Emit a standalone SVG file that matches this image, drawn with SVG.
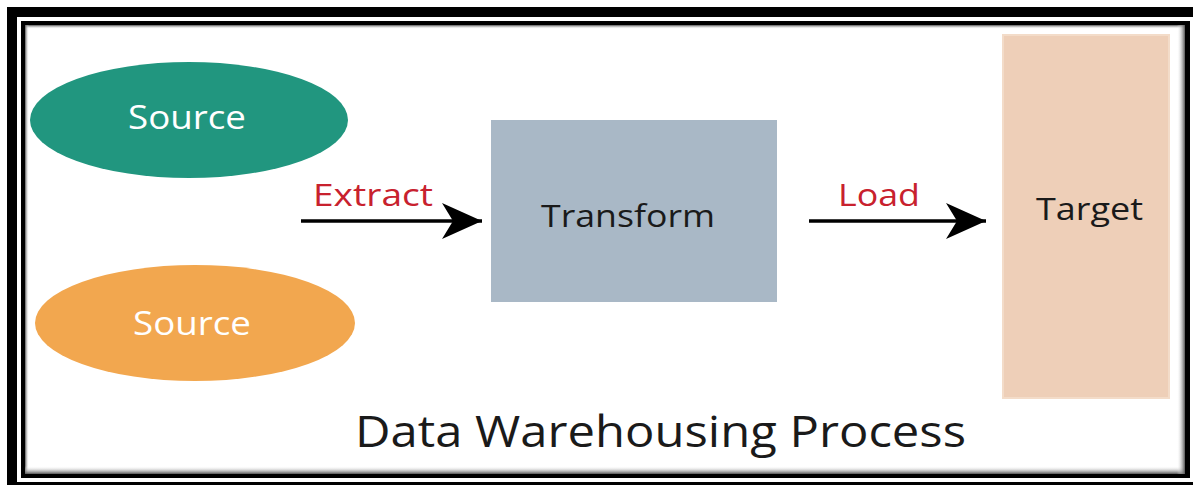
<svg xmlns="http://www.w3.org/2000/svg" width="1193" height="485" viewBox="0 0 1193 485">
  <style>
    .lbl { font-family: "Open Sans", "Noto Sans", "DejaVu Sans", sans-serif; }
    .white { fill: #ffffff; font-size: 32px; }
    .dark { fill: #1a1a1a; font-size: 31px; }
    .red { fill: #c8212e; font-size: 31px; }
    .conn { stroke: #000; stroke-width: 3.5; fill: none; }
  </style>
  <defs>
    <marker id="arrow" viewBox="0 0 40 36" refX="40" refY="18" markerWidth="40" markerHeight="36" markerUnits="userSpaceOnUse" orient="auto">
      <path d="M0,0 L40,18 L0,36 L11,18 Z" fill="#000"/>
    </marker>
    <linearGradient id="shT" x1="0" y1="0" x2="0" y2="1"><stop offset="0" stop-color="#555"/><stop offset="1" stop-color="#fff" stop-opacity="0"/></linearGradient>
    <linearGradient id="shB" x1="0" y1="1" x2="0" y2="0"><stop offset="0" stop-color="#555"/><stop offset="1" stop-color="#fff" stop-opacity="0"/></linearGradient>
    <linearGradient id="shL" x1="0" y1="0" x2="1" y2="0"><stop offset="0" stop-color="#555"/><stop offset="1" stop-color="#fff" stop-opacity="0"/></linearGradient>
    <linearGradient id="shR" x1="1" y1="0" x2="0" y2="0"><stop offset="0" stop-color="#555"/><stop offset="1" stop-color="#fff" stop-opacity="0"/></linearGradient>
  </defs>
  <rect width="1193" height="485" fill="#ffffff"/>
  <g id="frame">
    <rect x="7" y="7" width="1190" height="478" fill="#000"/>
    <rect x="17" y="17" width="1190" height="465" fill="#fff"/>
    <rect x="21" y="21" width="1169" height="457" fill="#000"/>
    <rect x="25" y="25" width="1160" height="449" fill="#fff"/>
    <rect x="25" y="25" width="1160" height="4" fill="url(#shT)"/>
    <rect x="25" y="25" width="4" height="449" fill="url(#shL)"/>
    <rect x="25" y="466" width="1160" height="8" fill="url(#shB)"/>
    <rect x="1177" y="25" width="8" height="449" fill="url(#shR)"/>
  </g>
  <g id="source1">
    <ellipse cx="189" cy="120" rx="159" ry="58" fill="#21967f"/>
    <text class="lbl white" x="128" y="129" textLength="118" lengthAdjust="spacingAndGlyphs">Source</text>
  </g>
  <g id="source2">
    <ellipse cx="195" cy="323" rx="160" ry="58" fill="#f2a74f"/>
    <text class="lbl white" x="133" y="335" textLength="118" lengthAdjust="spacingAndGlyphs">Source</text>
  </g>
  <g id="transform">
    <rect x="491" y="120" width="286" height="182" fill="#a9b8c6"/>
    <text class="lbl dark" x="541" y="227" textLength="174" lengthAdjust="spacingAndGlyphs">Transform</text>
  </g>
  <g id="target">
    <rect x="1003" y="35" width="166" height="363" fill="#eecfb8" stroke="#f3dcc9" stroke-width="2"/>
    <text class="lbl dark" x="1036" y="220" textLength="107" lengthAdjust="spacingAndGlyphs">Target</text>
  </g>
  <g id="connectors">
    <line class="conn" x1="301" y1="221" x2="482" y2="221" marker-end="url(#arrow)"/>
    <text class="lbl red" x="313" y="206" textLength="120" lengthAdjust="spacingAndGlyphs">Extract</text>
    <line class="conn" x1="809" y1="221" x2="986" y2="221" marker-end="url(#arrow)"/>
    <text class="lbl red" x="838" y="206" textLength="82" lengthAdjust="spacingAndGlyphs">Load</text>
  </g>
  <text class="lbl" x="355" y="447" fill="#1a1a1a" font-size="43" textLength="611" lengthAdjust="spacingAndGlyphs">Data Warehousing Process</text>
</svg>
